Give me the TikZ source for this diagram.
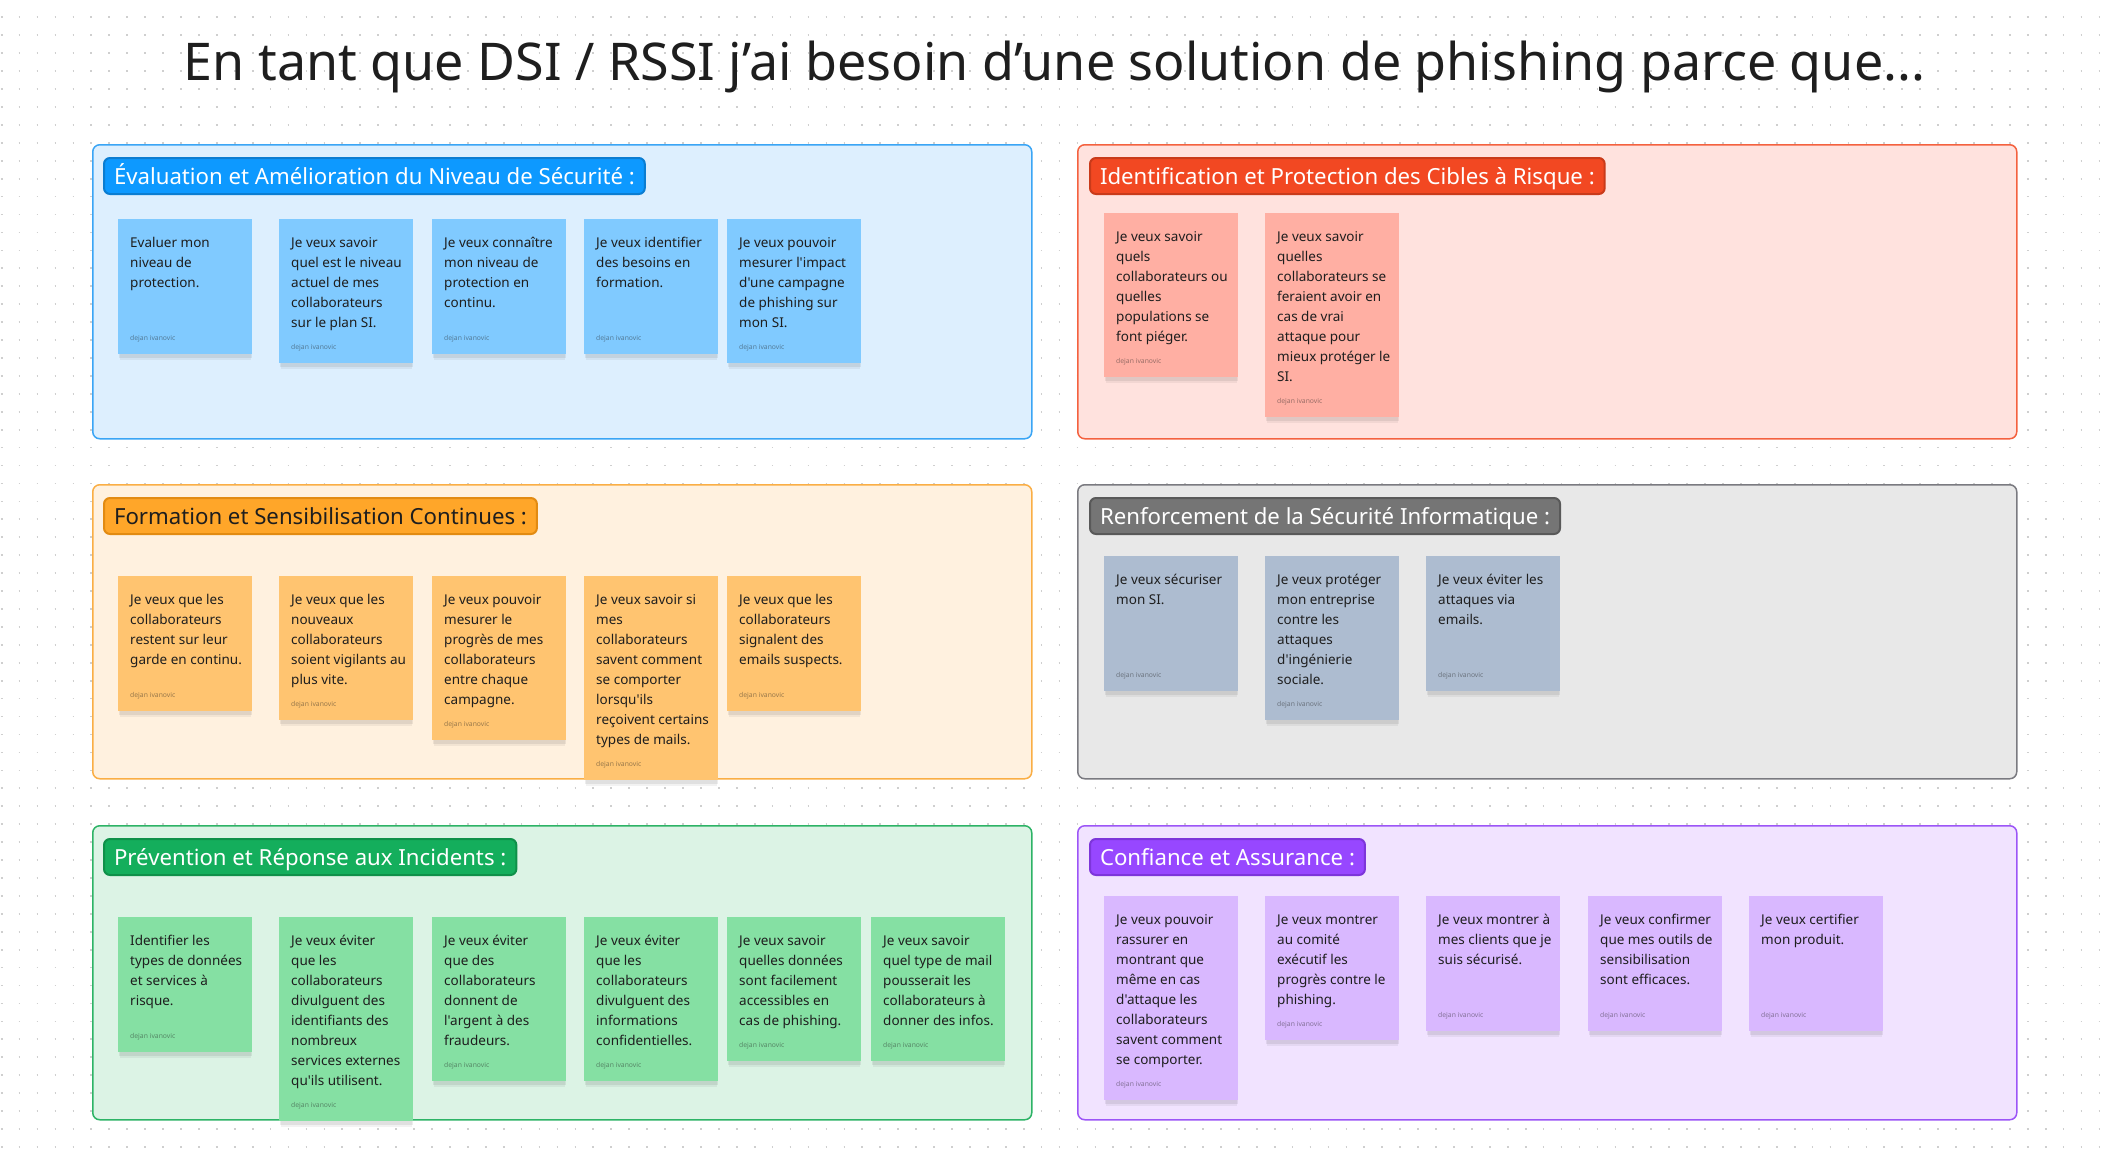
\documentclass[tikz,border=0pt]{standalone}
\usepackage{fontspec}
\setmainfont{Noto Sans}
\newfontfamily\nsans{Noto Sans}
\usetikzlibrary{calc}
\definecolor{inkc}{HTML}{1E1E1E}
\definecolor{dotc}{HTML}{CFCFCF}
\definecolor{blueP}{HTML}{DDEFFE}\definecolor{blueB}{HTML}{3AA5F5}\definecolor{blueH}{HTML}{0D99FF}\definecolor{blueHd}{HTML}{0B7DD1}\definecolor{blueN}{HTML}{80CAFF}
\definecolor{redP}{HTML}{FFE2DE}\definecolor{redB}{HTML}{F4613F}\definecolor{redH}{HTML}{F24822}\definecolor{redHd}{HTML}{C93A1A}\definecolor{redN}{HTML}{FFAFA3}
\definecolor{orgP}{HTML}{FFF1DF}\definecolor{orgB}{HTML}{FAAE45}\definecolor{orgH}{HTML}{FFA629}\definecolor{orgHd}{HTML}{E28B12}\definecolor{orgN}{HTML}{FFC470}
\definecolor{gryP}{HTML}{E8E8E8}\definecolor{gryB}{HTML}{7A7A80}\definecolor{gryH}{HTML}{757575}\definecolor{gryHd}{HTML}{595959}\definecolor{gryN}{HTML}{ADBCD0}
\definecolor{grnP}{HTML}{DCF3E5}\definecolor{grnB}{HTML}{2DB366}\definecolor{grnH}{HTML}{14AE5C}\definecolor{grnHd}{HTML}{0F9049}\definecolor{grnN}{HTML}{85E0A3}
\definecolor{purP}{HTML}{F1E3FF}\definecolor{purB}{HTML}{9C55F7}\definecolor{purH}{HTML}{9747FF}\definecolor{purHd}{HTML}{7D35DA}\definecolor{purN}{HTML}{D9B8FF}
\newcommand\snote[6]{%
  \pgfmathsetmacro\notehgt{max(135,44+20*#4)}%
  \fill[black,opacity=0.07] ({#2+1},{#3+3}) rectangle ({#2+134},{#3+\notehgt+4});%
  \fill[black,opacity=0.05] ({#2+2},{#3+\notehgt}) rectangle ({#2+133},{#3+\notehgt+6});%
  \node[notebox,fill=#5,minimum height=\notehgt pt,anchor=north west] (#1) at (#2,#3) {};%
  \node[notetext,anchor=north west] (#1-t) at ([xshift=12pt,yshift=-14pt]#1.north west) {\rule{0pt}{14pt}#6};%
  \node[authortext,anchor=base west] (#1-a) at ([xshift=12pt,yshift=13.5pt]#1.south west) {dejan ivanovic};%
}
\begin{document}
\begin{tikzpicture}[x=1pt,y=-1pt,
  dotline/.style={dotc,line width=1.7pt,dash pattern=on 1.7pt off 16.23pt},
  panel/.style={rounded corners=7pt,line width=1.5pt,inner sep=0pt,minimum width=939pt,minimum height=294pt,anchor=north west},
  hdr/.style={rounded corners=6pt,line width=2pt,inner xsep=10pt,inner ysep=0pt,minimum height=36pt,text height=20pt,text depth=3pt,font=\nsans\fontsize{22.2}{26}\selectfont,anchor=north west,text=white},
  notebox/.style={inner sep=0pt,minimum width=134pt,draw=none},
  notetext/.style={inner sep=0pt,align=left,text=inkc,font=\nsans\fontsize{13.5}{20}\selectfont},
  authortext/.style={inner sep=0pt,text=inkc,text opacity=0.45,font=\nsans\fontsize{6.8}{8}\selectfont},
  titletext/.style={inner sep=0pt,text=inkc,font=\fontsize{52}{60}\selectfont}
]
\useasboundingbox (0,0) rectangle (2104,1154);
\fill[white] (0,0) rectangle (2104,1154);
\foreach \k in {0,...,63} {\draw[dotline] (0.8,{17.3+\k*17.93}) -- (2104,{17.3+\k*17.93});}

\node[titletext,anchor=base] (title) at (1054.5,80) {En tant que DSI / RSSI j’ai besoin d’une solution de phishing parce que...};

% panels
\node[panel,draw=blueB,fill=blueP] (p1) at (92,144) {};
\node[panel,draw=redB,fill=redP] (p2) at (1077,144) {};
\node[panel,draw=orgB,fill=orgP] (p3) at (92,484) {};
\node[panel,draw=gryB,fill=gryP] (p4) at (1077,484) {};
\node[panel,draw=grnB,fill=grnP] (p5) at (92,825) {};
\node[panel,draw=purB,fill=purP] (p6) at (1077,825) {};

% headers
\node[hdr,fill=blueH,draw=blueHd] (h1) at (103,157) {Évaluation et Amélioration du Niveau de Sécurité :};
\node[hdr,fill=redH,draw=redHd] (h2) at (1089,157) {Identification et Protection des Cibles à Risque :};
\node[hdr,fill=orgH,draw=orgHd,text=inkc] (h3) at (103,497) {Formation et Sensibilisation Continues :};
\node[hdr,fill=gryH,draw=gryHd] (h4) at (1089,497) {Renforcement de la Sécurité Informatique :};
\node[hdr,fill=grnH,draw=grnHd] (h5) at (103,838) {Prévention et Réponse aux Incidents :};
\node[hdr,fill=purH,draw=purHd] (h6) at (1089,838) {Confiance et Assurance :};

% panel 1
\snote{a1}{118}{219}{3}{blueN}{Evaluer mon\\niveau de\\protection.}
\snote{a2}{279}{219}{5}{blueN}{Je veux savoir\\quel est le niveau\\actuel de mes\\collaborateurs\\sur le plan SI.}
\snote{a3}{432}{219}{4}{blueN}{Je veux connaître\\mon niveau de\\protection en\\continu.}
\snote{a4}{584}{219}{3}{blueN}{Je veux identifier\\des besoins en\\formation.}
\snote{a5}{727}{219}{5}{blueN}{Je veux pouvoir\\mesurer l'impact\\d'une campagne\\de phishing sur\\mon SI.}

% panel 2
\snote{b1}{1104}{213}{6}{redN}{Je veux savoir\\quels\\collaborateurs ou\\quelles\\populations se\\font piéger.}
\snote{b2}{1265}{213}{8}{redN}{Je veux savoir\\quelles\\collaborateurs se\\feraient avoir en\\cas de vrai\\attaque pour\\mieux protéger le\\SI.}

% panel 3
\snote{c1}{118}{576}{4}{orgN}{Je veux que les\\collaborateurs\\restent sur leur\\garde en continu.}
\snote{c2}{279}{576}{5}{orgN}{Je veux que les\\nouveaux\\collaborateurs\\soient vigilants au\\plus vite.}
\snote{c3}{432}{576}{6}{orgN}{Je veux pouvoir\\mesurer le\\progrès de mes\\collaborateurs\\entre chaque\\campagne.}
\snote{c4}{584}{576}{8}{orgN}{Je veux savoir si\\mes\\collaborateurs\\savent comment\\se comporter\\lorsqu'ils\\reçoivent certains\\types de mails.}
\snote{c5}{727}{576}{4}{orgN}{Je veux que les\\collaborateurs\\signalent des\\emails suspects.}

% panel 4
\snote{d1}{1104}{556}{2}{gryN}{Je veux sécuriser\\mon SI.}
\snote{d2}{1265}{556}{6}{gryN}{Je veux protéger\\mon entreprise\\contre les\\attaques\\d'ingénierie\\sociale.}
\snote{d3}{1426}{556}{3}{gryN}{Je veux éviter les\\attaques via\\emails.}

% panel 5
\snote{e1}{118}{917}{4}{grnN}{Identifier les\\types de données\\et services à\\risque.}
\snote{e2}{279}{917}{8}{grnN}{Je veux éviter\\que les\\collaborateurs\\divulguent des\\identifiants des\\nombreux\\services externes\\qu'ils utilisent.}
\snote{e3}{432}{917}{6}{grnN}{Je veux éviter\\que des\\collaborateurs\\donnent de\\l'argent à des\\fraudeurs.}
\snote{e4}{584}{917}{6}{grnN}{Je veux éviter\\que les\\collaborateurs\\divulguent des\\informations\\confidentielles.}
\snote{e5}{727}{917}{5}{grnN}{Je veux savoir\\quelles données\\sont facilement\\accessibles en\\cas de phishing.}
\snote{e6}{871}{917}{5}{grnN}{Je veux savoir\\quel type de mail\\pousserait les\\collaborateurs à\\donner des infos.}

% panel 6
\snote{f1}{1104}{896}{8}{purN}{Je veux pouvoir\\rassurer en\\montrant que\\même en cas\\d'attaque les\\collaborateurs\\savent comment\\se comporter.}
\snote{f2}{1265}{896}{5}{purN}{Je veux montrer\\au comité\\exécutif les\\progrès contre le\\phishing.}
\snote{f3}{1426}{896}{3}{purN}{Je veux montrer à\\mes clients que je\\suis sécurisé.}
\snote{f4}{1588}{896}{4}{purN}{Je veux confirmer\\que mes outils de\\sensibilisation\\sont efficaces.}
\snote{f5}{1749}{896}{2}{purN}{Je veux certifier\\mon produit.}
\end{tikzpicture}
\end{document}
